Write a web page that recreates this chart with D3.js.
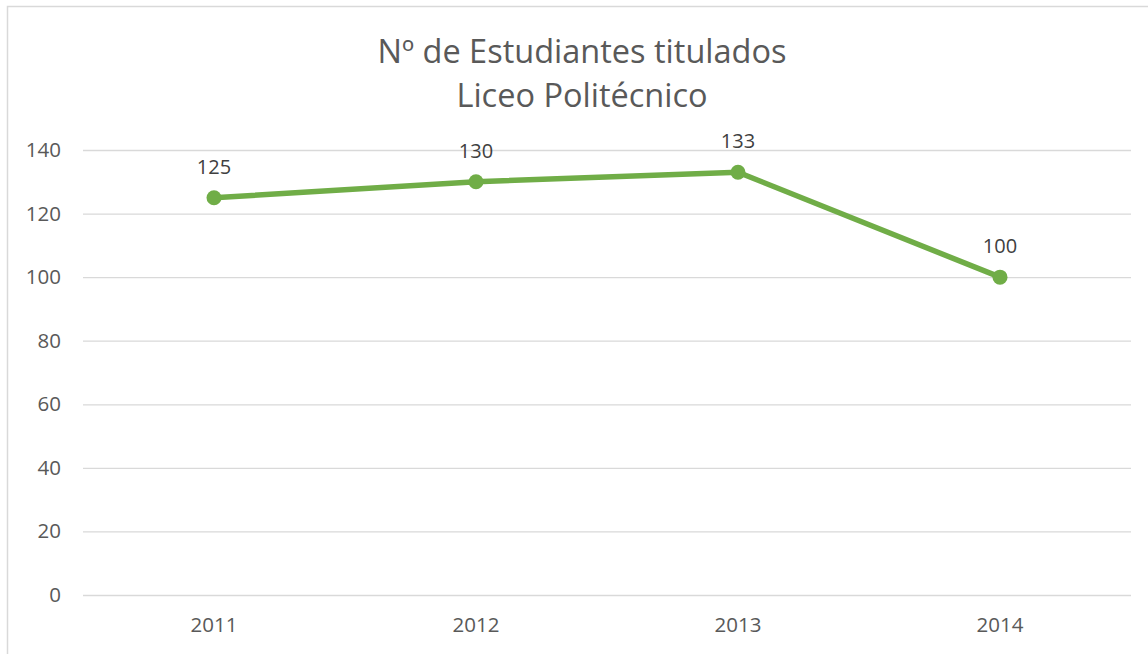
<!DOCTYPE html>
<html>
<head>
<meta charset="utf-8">
<script src="https://cdn.jsdelivr.net/npm/d3@7"></script>
<style>
html,body{margin:0;padding:0;background:#fff;}
svg{display:block;font-family:"Open Sans","Noto Sans",sans-serif;}
</style>
</head>
<body>
<svg id="chart" width="1148" height="654"></svg>
<script>
const categories = ["2011", "2012", "2013", "2014"];
const values = [125, 130, 133, 100];
const yTicks = [0, 20, 40, 60, 80, 100, 120, 140];
const titleLines = ["Nº de Estudiantes titulados", "Liceo Politécnico"];

const svg = d3.select("#chart");
const W = 1148, H = 654;
const m = {left: 83, right: 17, top: 150, bottom: 59};
const FONT = "'Open Sans','Noto Sans',sans-serif";

// chart border
svg.append("rect").attr("x", 7.5).attr("y", 6.5).attr("width", W + 10).attr("height", H + 10)
  .attr("fill", "none").attr("stroke", "#d9d9d9").attr("stroke-width", 1.5);

const x = d3.scaleBand().domain(categories).range([m.left, W - m.right]).padding(0);
const y = d3.scaleLinear().domain([0, 140]).range([H - m.bottom, m.top]);

// gridlines + y axis
const yAxis = d3.axisLeft(y).tickValues(yTicks).tickSize(-(W - m.right - m.left)).tickPadding(22);
const gy = svg.append("g").attr("transform", `translate(${m.left},0)`).call(yAxis)
  .attr("font-size", 20.5).attr("font-family", FONT);
gy.select(".domain").remove();
gy.selectAll(".tick line").attr("stroke", "#d9d9d9").attr("stroke-width", 1.3);
gy.selectAll(".tick text").attr("fill", "#595959");

const xAxis = d3.axisBottom(x).tickSize(0).tickPadding(22);
const gx = svg.append("g").attr("transform", `translate(0,${H - m.bottom})`).call(xAxis)
  .attr("font-size", 20.5).attr("font-family", FONT);
gx.select(".domain").remove();
gx.selectAll(".tick text").attr("fill", "#595959");

// title
svg.append("g").selectAll("text").data(titleLines).join("text")
  .attr("x", 582).attr("y", (d, i) => 63 + i * 44)
  .attr("text-anchor", "middle").attr("fill", "#595959").attr("font-size", 32.5).attr("font-family", FONT)
  .text(d => d);

const cx = d => x(d) + x.bandwidth() / 2;
const data = categories.map((c, i) => ({c, v: values[i]}));

const line = d3.line().x(d => cx(d.c)).y(d => y(d.v));
svg.append("path").datum(data).attr("d", line)
  .attr("fill", "none").attr("stroke", "#70ad47").attr("stroke-width", 5.5).attr("stroke-linejoin", "round");

svg.append("g").selectAll("circle").data(data).join("circle")
  .attr("cx", d => cx(d.c)).attr("cy", d => y(d.v)).attr("r", 7.5).attr("fill", "#70ad47");

svg.append("g").selectAll("text").data(data).join("text")
  .attr("x", d => cx(d.c)).attr("y", d => y(d.v) - 24)
  .attr("text-anchor", "middle").attr("fill", "#404040").attr("font-size", 20).attr("font-family", FONT)
  .text(d => d.v);
</script>
</body>
</html>
